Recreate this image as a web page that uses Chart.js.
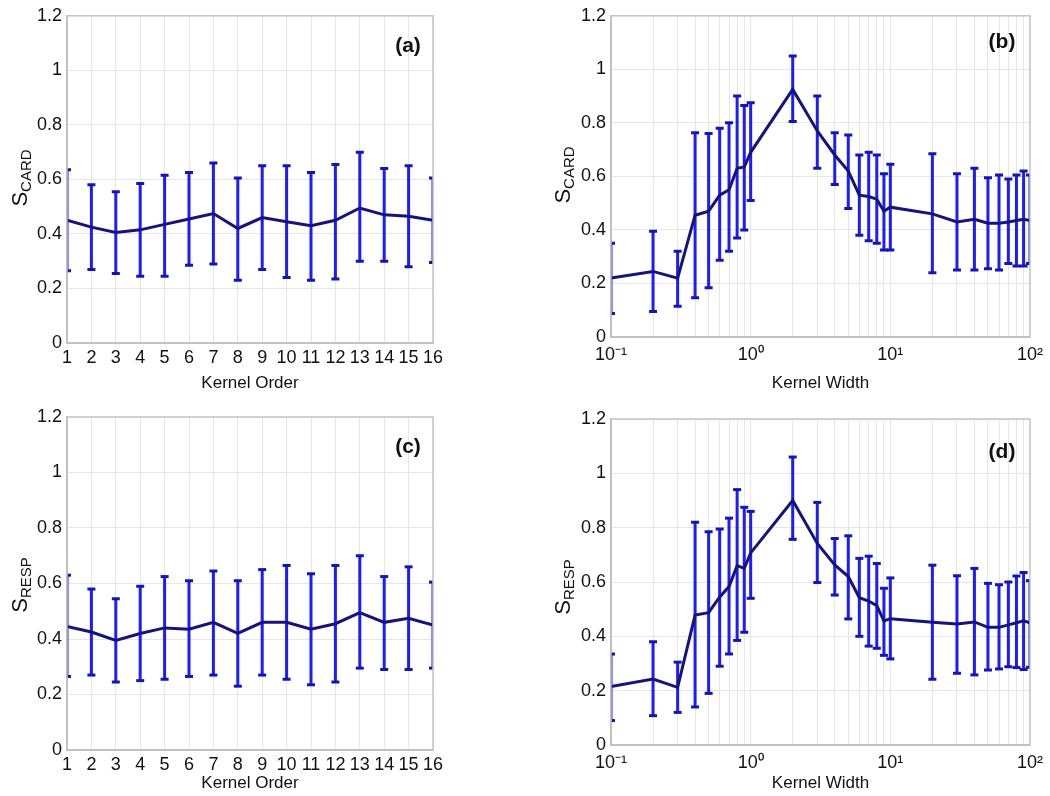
<!DOCTYPE html>
<html>
<head>
<meta charset="utf-8">
<script src="https://cdn.jsdelivr.net/npm/chart.js@4.4.1/dist/chart.umd.min.js"></script>
<style>
  body { margin: 0; background: #fff; width: 1050px; height: 796px; position: relative; overflow: hidden;
         font-family: 'Liberation Sans', Arial, sans-serif; color: #111; }
  canvas { position: absolute; }
  .ytitle { position: absolute; font-size: 22px; transform: translate(-50%, -50%) rotate(-90deg); white-space: nowrap; }
  .ytitle sub { font-size: 15px; vertical-align: -4px; }
  .tag { position: absolute; font-size: 21px; font-weight: bold; transform: translate(-50%, -50%); }
</style>
</head>
<body>
<canvas id="chartA" width="460" height="396" style="left:0;top:0"></canvas>
<canvas id="chartB" width="525" height="396" style="left:525px;top:0"></canvas>
<canvas id="chartC" width="460" height="396" style="left:0;top:400px"></canvas>
<canvas id="chartD" width="525" height="396" style="left:525px;top:400px"></canvas>

<div class="ytitle" style="left:20px;top:178px">S<sub>CARD</sub></div>
<div class="ytitle" style="left:563px;top:175px">S<sub>CARD</sub></div>
<div class="ytitle" style="left:20px;top:585px">S<sub>RESP</sub></div>
<div class="ytitle" style="left:563px;top:587px">S<sub>RESP</sub></div>

<div class="tag" style="left:408px;top:45px">(a)</div>
<div class="tag" style="left:1002px;top:41px">(b)</div>
<div class="tag" style="left:408px;top:446px">(c)</div>
<div class="tag" style="left:1002px;top:451px">(d)</div>

<script>
// x values
const kernelOrders = [1, 2, 3, 4, 5, 6, 7, 8, 9, 10, 11, 12, 13, 14, 15, 16];
const kernelWidths = [0.1, 0.2, 0.3, 0.4, 0.5, 0.6, 0.7, 0.8, 0.9,
                      1, 2, 3, 4, 5, 6, 7, 8, 9,
                      10, 20, 30, 40, 50, 60, 70, 80, 90, 100];

// (a) S_CARD vs kernel order
const cardOrderMean = [0.45, 0.425, 0.405, 0.415, 0.435, 0.455, 0.475, 0.42, 0.46, 0.445, 0.43, 0.45, 0.495, 0.47, 0.465, 0.45];
const cardOrderHigh = [0.635, 0.58, 0.555, 0.585, 0.615, 0.625, 0.66, 0.605, 0.65, 0.65, 0.625, 0.655, 0.70, 0.64, 0.65, 0.605];
const cardOrderLow  = [0.265, 0.27, 0.255, 0.245, 0.245, 0.285, 0.29, 0.23, 0.27, 0.24, 0.23, 0.235, 0.30, 0.30, 0.28, 0.295];

// (c) S_RESP vs kernel order
const respOrderMean = [0.445, 0.425, 0.395, 0.42, 0.44, 0.435, 0.46, 0.42, 0.46, 0.46, 0.435, 0.455, 0.495, 0.46, 0.475, 0.45];
const respOrderHigh = [0.63, 0.58, 0.545, 0.59, 0.625, 0.61, 0.645, 0.61, 0.65, 0.665, 0.635, 0.665, 0.70, 0.625, 0.66, 0.605];
const respOrderLow  = [0.265, 0.27, 0.245, 0.25, 0.255, 0.265, 0.27, 0.23, 0.27, 0.255, 0.235, 0.245, 0.295, 0.29, 0.29, 0.295];

// (b) S_CARD vs kernel width
const cardWidthMean = [0.22, 0.245, 0.22, 0.455, 0.47, 0.53, 0.55, 0.63, 0.635,
                       0.69, 0.925, 0.77, 0.68, 0.62, 0.53, 0.525, 0.515, 0.47,
                       0.485, 0.46, 0.43, 0.44, 0.425, 0.425, 0.43, 0.435, 0.44, 0.435];
const cardWidthHigh = [0.35, 0.395, 0.32, 0.763, 0.76, 0.78, 0.80, 0.90, 0.865,
                       0.875, 1.05, 0.90, 0.763, 0.755, 0.68, 0.69, 0.68, 0.61,
                       0.645, 0.685, 0.61, 0.63, 0.595, 0.605, 0.59, 0.605, 0.62, 0.605];
const cardWidthLow  = [0.088, 0.095, 0.115, 0.147, 0.184, 0.287, 0.32, 0.37, 0.40,
                       0.51, 0.805, 0.63, 0.57, 0.48, 0.38, 0.36, 0.35, 0.325,
                       0.325, 0.24, 0.25, 0.25, 0.255, 0.25, 0.275, 0.265, 0.265, 0.275];

// (d) S_RESP vs kernel width
const respWidthMean = [0.215, 0.243, 0.212, 0.478, 0.487, 0.545, 0.583, 0.66, 0.65,
                       0.707, 0.90, 0.742, 0.663, 0.62, 0.542, 0.53, 0.513, 0.457,
                       0.465, 0.452, 0.445, 0.453, 0.433, 0.433, 0.442, 0.45, 0.457, 0.45];
const respWidthHigh = [0.335, 0.38, 0.305, 0.82, 0.785, 0.795, 0.835, 0.94, 0.875,
                       0.86, 1.06, 0.893, 0.76, 0.77, 0.687, 0.695, 0.668, 0.577,
                       0.615, 0.662, 0.623, 0.65, 0.595, 0.59, 0.60, 0.622, 0.635, 0.605];
const respWidthLow  = [0.09, 0.108, 0.12, 0.14, 0.19, 0.29, 0.335, 0.385, 0.415,
                       0.54, 0.757, 0.598, 0.552, 0.464, 0.40, 0.364, 0.356, 0.33,
                       0.317, 0.242, 0.264, 0.258, 0.276, 0.28, 0.288, 0.285, 0.278, 0.286];

// tick labels
const yTickValues = [0, 0.2, 0.4, 0.6, 0.8, 1, 1.2];
const widthTickLabels = { 0.1: '10\u207B\u00B9', 1: '10\u2070', 10: '10\u00B9', 100: '10\u00B2' };

const FONT = "'Liberation Sans', Arial, sans-serif";

// light grey frame round the plot area
const framePlugin = {
    id: 'frame',
    afterDatasetsDraw(chart) {
        const a = chart.chartArea;
        const ctx = chart.ctx;
        ctx.save();
        ctx.strokeStyle = '#c4c4c4';
        ctx.lineWidth = 1.5;
        ctx.strokeRect(a.left, a.top, a.right - a.left, a.bottom - a.top);
        ctx.restore();
    }
};

function errorBarPoints(xs, low, high) {
    const pts = [];
    xs.forEach(function(x, i) {
        pts.push({ x: x, y: low[i] }, { x: x, y: high[i] }, { x: x, y: null });
    });
    return pts;
}

function makePanel(id, box, area, xs, mean, low, high, logX, xTitle) {
    const ctx = document.getElementById(id).getContext('2d');
    const xScale = {
        type: logX ? 'logarithmic' : 'linear',
        min: xs[0],
        max: xs[xs.length - 1],
        grid: { color: '#e6e6e6', lineWidth: 1, drawTicks: false },
        border: { display: true, color: '#b8b8b8', width: 2 },
        ticks: {
            color: '#111',
            font: { family: FONT, size: 18 },
            padding: logX ? 7 : 4,
            autoSkip: false,
            maxRotation: 0,
            stepSize: 1,
            callback: function(value) {
                if (logX) return widthTickLabels[value] || '';
                return String(value);
            }
        },
        title: {
            display: true,
            text: xTitle,
            color: '#111',
            font: { family: FONT, size: 17 },
            padding: { top: 2, bottom: 2 }
        },
        afterFit: function(s) { s.height = box.top + box.height - area.bottom; }
    };
    if (logX) {
        xScale.afterBuildTicks = function(s) { s.ticks = xs.map(function(v) { return { value: v }; }); };
    }

    new Chart(ctx, {
        type: 'line',
        data: {
            datasets: [
                {
                    label: 'mean',
                    data: xs.map(function(x, i) { return { x: x, y: mean[i] }; }),
                    borderColor: '#14147a',
                    borderWidth: 3,
                    pointRadius: 0,
                    tension: 0,
                    order: 0
                },
                {
                    label: 'error',
                    data: errorBarPoints(xs, low, high),
                    borderColor: '#1c1cff',
                    borderWidth: 3,
                    spanGaps: false,
                    pointStyle: 'line',
                    pointRadius: 4,
                    pointBorderWidth: 3,
                    pointBorderColor: '#1414b8',
                    pointBackgroundColor: '#1414b8',
                    order: 1
                }
            ]
        },
        options: {
            responsive: false,
            animation: false,
            devicePixelRatio: 1,
            layout: {
                padding: {
                    left: 0,
                    bottom: 0,
                    top: area.top - box.top,
                    right: box.left + box.width - area.right
                }
            },
            plugins: {
                legend: { display: false },
                tooltip: { enabled: false }
            },
            scales: {
                x: xScale,
                y: {
                    min: 0,
                    max: 1.2,
                    grid: { color: '#e6e6e6', lineWidth: 1, drawTicks: false },
                    border: { display: true, color: '#b8b8b8', width: 2 },
                    afterBuildTicks: function(s) { s.ticks = yTickValues.map(function(v) { return { value: v }; }); },
                    ticks: {
                        color: '#111',
                        font: { family: FONT, size: 18 },
                        padding: 5,
                        callback: function(value) { return String(Number(value.toFixed(1))); }
                    },
                    afterFit: function(s) { s.width = area.left - box.left; }
                }
            }
        },
        plugins: [framePlugin]
    });
}

makePanel('chartA', { left: 0, top: 0, width: 460, height: 396 }, { left: 67, right: 433, top: 11, bottom: 343 },
          kernelOrders, cardOrderMean, cardOrderLow, cardOrderHigh, false, 'Kernel Order');
makePanel('chartB', { left: 525, top: 0, width: 525, height: 396 }, { left: 611, right: 1032, top: 11, bottom: 337 },
          kernelWidths, cardWidthMean, cardWidthLow, cardWidthHigh, true, 'Kernel Width');
makePanel('chartC', { left: 0, top: 400, width: 460, height: 396 }, { left: 67, right: 433, top: 417, bottom: 750 },
          kernelOrders, respOrderMean, respOrderLow, respOrderHigh, false, 'Kernel Order');
makePanel('chartD', { left: 525, top: 400, width: 525, height: 396 }, { left: 611, right: 1032, top: 419, bottom: 745 },
          kernelWidths, respWidthMean, respWidthLow, respWidthHigh, true, 'Kernel Width');
</script>
</body>
</html>
